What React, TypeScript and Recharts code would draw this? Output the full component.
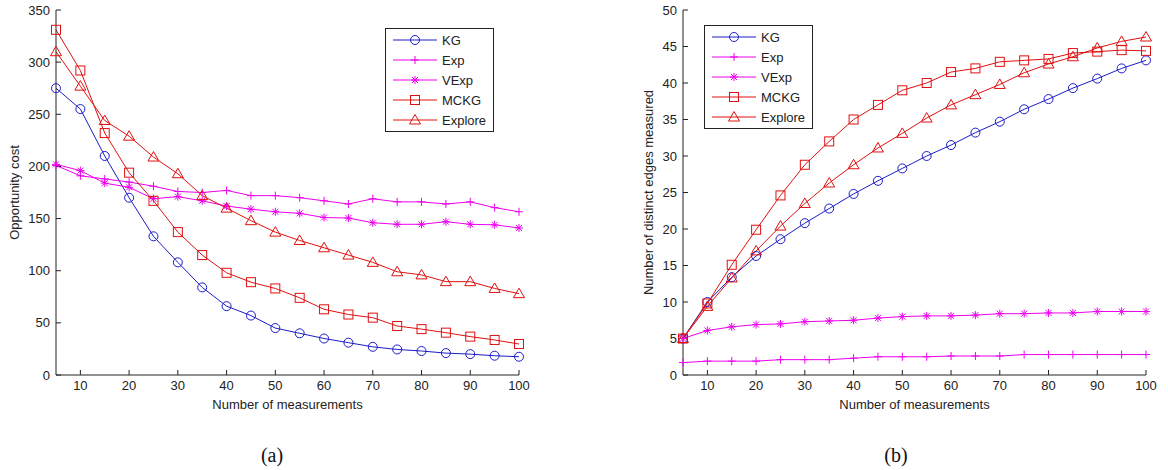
import { CartesianGrid, Legend, Line, LineChart, XAxis, YAxis } from "recharts";

// measurement counts shared by both panels
const MEASUREMENTS = [5, 10, 15, 20, 25, 30, 35, 40, 45, 50, 55, 60, 65, 70, 75, 80, 85, 90, 95, 100];
const X_TICKS = [10, 20, 30, 40, 50, 60, 70, 80, 90, 100];
const COST_TICKS = [0, 50, 100, 150, 200, 250, 300, 350];
const EDGE_TICKS = [0, 5, 10, 15, 20, 25, 30, 35, 40, 45, 50];

// (a) opportunity cost
const costKG = [275, 255, 210, 170, 133, 108, 84, 66, 57, 45, 40, 35, 31, 27, 24.5, 23, 21, 20, 18.5, 17.5];
const costExp = [201, 191, 188, 185, 181, 176, 175, 177, 172, 172, 170, 167, 164, 169, 166, 166, 164, 166, 160.5, 156.5];
const costVExp = [202, 196, 184, 180, 169, 171, 167, 162, 159, 156.5, 155, 151, 150.5, 146, 144.5, 144.5, 147, 144.5, 144, 141];
const costMCKG = [331, 292, 232, 194, 167, 137, 115, 98, 89, 83, 74, 63, 58, 55, 47, 44, 40.6, 36.8, 33.6, 29.7];
const costExplore = [310, 277, 244, 229, 209, 193, 172, 160, 148, 137, 129, 122, 115, 108, 99, 96, 89.5, 89.5, 83, 78];

// (b) distinct edges measured
const edgesKG = [5, 10, 13.4, 16.3, 18.6, 20.8, 22.8, 24.8, 26.6, 28.3, 30.0, 31.5, 33.2, 34.7, 36.4, 37.8, 39.3, 40.6, 42.0, 43.1];
const edgesExp = [1.7, 1.9, 1.9, 1.9, 2.1, 2.1, 2.1, 2.3, 2.5, 2.5, 2.5, 2.6, 2.6, 2.6, 2.8, 2.8, 2.8, 2.8, 2.8, 2.8];
const edgesVExp = [5, 6.1, 6.6, 6.9, 7.0, 7.3, 7.4, 7.5, 7.8, 8.0, 8.1, 8.1, 8.2, 8.4, 8.4, 8.5, 8.5, 8.7, 8.7, 8.7];
const edgesMCKG = [5, 9.8, 15.1, 19.9, 24.6, 28.8, 32.0, 35.0, 37.0, 39.0, 40.0, 41.5, 42.0, 42.9, 43.1, 43.3, 44.1, 44.3, 44.5, 44.4];
const edgesExplore = [5, 9.4, 13.3, 17.0, 20.4, 23.5, 26.3, 28.8, 31.1, 33.1, 35.2, 37.0, 38.4, 39.8, 41.4, 42.6, 43.6, 44.8, 45.7, 46.3];

const BLUE = "#1c1cc8";
const MAGENTA = "#ee00ee";
const RED = "#e01010";
const INK = "#222";
const FONT = "'Liberation Sans', Arial, sans-serif";

type Kind = "circle" | "plus" | "star" | "square" | "triangle";

const SERIES: { key: string; color: string; kind: Kind }[] = [
  { key: "KG", color: BLUE, kind: "circle" },
  { key: "Exp", color: MAGENTA, kind: "plus" },
  { key: "VExp", color: MAGENTA, kind: "star" },
  { key: "MCKG", color: RED, kind: "square" },
  { key: "Explore", color: RED, kind: "triangle" },
];

function buildRows(kg: number[], exp: number[], vexp: number[], mckg: number[], explore: number[]) {
  return MEASUREMENTS.map((x, i) => ({
    x,
    KG: kg[i],
    Exp: exp[i],
    VExp: vexp[i],
    MCKG: mckg[i],
    Explore: explore[i],
  }));
}

const costRows = buildRows(costKG, costExp, costVExp, costMCKG, costExplore);
const edgeRows = buildRows(edgesKG, edgesExp, edgesVExp, edgesMCKG, edgesExplore);

function Marker({ cx, cy, kind, color }: { cx: number; cy: number; kind: Kind; color: string }) {
  if (cx == null || cy == null) return null;
  const p = { stroke: color, strokeWidth: 1, fill: "none" };
  switch (kind) {
    case "circle":
      return <circle cx={cx} cy={cy} r={4.5} {...p} />;
    case "square":
      return <rect x={cx - 4.5} y={cy - 4.5} width={9} height={9} {...p} />;
    case "triangle":
      return <polygon points={`${cx},${cy - 5.5} ${cx - 5.5},${cy + 4} ${cx + 5.5},${cy + 4}`} {...p} />;
    case "plus":
      return (
        <g {...p}>
          <line x1={cx - 4} y1={cy} x2={cx + 4} y2={cy} />
          <line x1={cx} y1={cy - 4} x2={cx} y2={cy + 4} />
        </g>
      );
    case "star":
      return (
        <g {...p}>
          <line x1={cx - 4} y1={cy} x2={cx + 4} y2={cy} />
          <line x1={cx} y1={cy - 4} x2={cx} y2={cy + 4} />
          <line x1={cx - 3} y1={cy - 3} x2={cx + 3} y2={cy + 3} />
          <line x1={cx - 3} y1={cy + 3} x2={cx + 3} y2={cy - 3} />
        </g>
      );
  }
}

function LegendBox() {
  return (
    <svg width={109} height={104} style={{ display: "block" }}>
      <rect x={0.5} y={0.5} width={108} height={103} fill="#fff" stroke={INK} strokeWidth={1} />
      {SERIES.map((s, i) => {
        const y = 12 + i * 20;
        return (
          <g key={s.key}>
            <line x1={8} y1={y} x2={52} y2={y} stroke={s.color} strokeWidth={1} />
            <Marker cx={30} cy={y} kind={s.kind} color={s.color} />
            <text x={57} y={y + 4.5} fontSize={13} fontFamily={FONT} fill={INK}>
              {s.key}
            </text>
          </g>
        );
      })}
    </svg>
  );
}

const tickStyle = { fill: INK, fontSize: 13, fontFamily: FONT };

function Panel({
  rows,
  yTicks,
  yMax,
  yLabel,
  yLabelOffset,
  legendLeft,
  legendTop,
}: {
  rows: any[];
  yTicks: number[];
  yMax: number;
  yLabel: string;
  yLabelOffset: number;
  legendLeft: number;
  legendTop: number;
}) {
  return (
    <LineChart width={530} height={415} data={rows} margin={{ top: 10, right: 11, bottom: 0, left: 0 }}>
      <CartesianGrid stroke="none" />
      <XAxis
        dataKey="x"
        type="number"
        domain={[5, 100]}
        ticks={X_TICKS}
        height={40}
        tick={tickStyle}
        tickSize={-5}
        tickMargin={11}
        stroke={INK}
        label={{
          value: "Number of measurements",
          position: "insideBottom",
          offset: 6,
          style: { fill: INK, fontSize: 13, fontFamily: FONT },
        }}
      />
      <XAxis
        xAxisId="top"
        orientation="top"
        type="number"
        domain={[5, 100]}
        ticks={X_TICKS}
        height={0}
        tick={false}
        tickSize={-5}
        stroke={INK}
      />
      <YAxis
        type="number"
        domain={[0, yMax]}
        ticks={yTicks}
        width={56}
        tick={tickStyle}
        tickSize={-5}
        tickMargin={11}
        stroke={INK}
        label={{
          value: yLabel,
          angle: -90,
          position: "insideLeft",
          offset: yLabelOffset,
          style: { textAnchor: "middle", fill: INK, fontSize: 13, fontFamily: FONT },
        }}
      />
      <YAxis
        yAxisId="right"
        orientation="right"
        type="number"
        domain={[0, yMax]}
        ticks={yTicks}
        width={0}
        tick={false}
        tickSize={-5}
        stroke={INK}
      />
      <Legend
        layout="vertical"
        align="center"
        verticalAlign="middle"
        wrapperStyle={{ left: legendLeft, top: legendTop, width: 109, height: 104 }}
        content={() => <LegendBox />}
      />
      {SERIES.map((s) => (
        <Line
          key={s.key}
          dataKey={s.key}
          type="linear"
          stroke={s.color}
          strokeWidth={1}
          isAnimationActive={false}
          activeDot={false}
          dot={(d: any) => <Marker key={`${s.key}-${d.index}`} cx={d.cx} cy={d.cy} kind={s.kind} color={s.color} />}
        />
      ))}
    </LineChart>
  );
}

const captionStyle: React.CSSProperties = {
  position: "absolute",
  top: 441,
  width: 60,
  textAlign: "center",
  fontFamily: "'Liberation Serif', 'DejaVu Serif', serif",
  fontSize: 20,
  lineHeight: "28px",
  color: "#111",
};

export default function App() {
  return (
    <div style={{ position: "fixed", left: 0, top: 0, width: 1168, height: 470, background: "#fff" }}>
      <div style={{ position: "absolute", left: 0, top: 0 }}>
        <Panel
          rows={costRows}
          yTicks={COST_TICKS}
          yMax={350}
          yLabel="Opportunity cost"
          yLabelOffset={14}
          legendLeft={385}
          legendTop={28}
        />
      </div>
      <div style={{ position: "absolute", left: 627, top: 0 }}>
        <Panel
          rows={edgeRows}
          yTicks={EDGE_TICKS}
          yMax={50}
          yLabel="Number of distinct edges measured"
          yLabelOffset={21}
          legendLeft={77}
          legendTop={25}
        />
      </div>
      <div style={{ ...captionStyle, left: 242 }}>(a)</div>
      <div style={{ ...captionStyle, left: 866 }}>(b)</div>
    </div>
  );
}
